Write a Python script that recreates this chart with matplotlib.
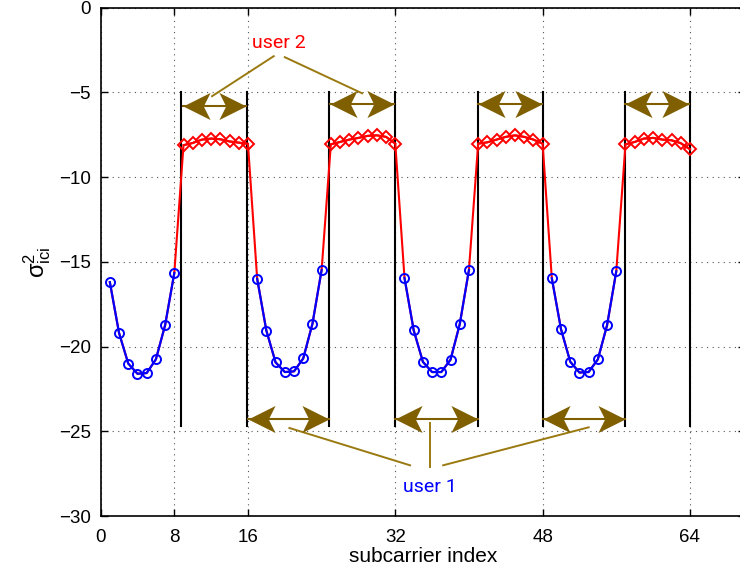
import matplotlib
matplotlib.use("Agg")
import matplotlib.pyplot as plt
from matplotlib.path import Path
import numpy as np

plt.rcParams['font.family'] = ['Liberation Sans', 'DejaVu Sans']
plt.rcParams['mathtext.fontset'] = 'custom'
plt.rcParams['mathtext.rm'] = 'Liberation Sans'
plt.rcParams['mathtext.it'] = 'Liberation Sans:italic'
plt.rcParams['mathtext.default'] = 'regular'

# ICI power per subcarrier, user 1 blocks (blue) and user 2 blocks (red)
user1_idx = [list(range(1, 9)), list(range(17, 25)), list(range(33, 41)), list(range(49, 57))]
user1_val = [
    [-16.2, -19.2, -21.0, -21.6, -21.56, -20.75, -18.74, -15.66],
    [-16.0, -19.06, -20.93, -21.5, -21.46, -20.7, -18.66, -15.48],
    [-15.95, -19.04, -20.9, -21.5, -21.5, -20.77, -18.68, -15.48],
    [-15.97, -18.98, -20.89, -21.53, -21.5, -20.75, -18.74, -15.56],
]
user2_idx = [list(range(9, 17)), list(range(25, 33)), list(range(41, 49)), list(range(57, 65))]
user2_val = [
    [-8.12, -7.99, -7.79, -7.73, -7.77, -7.9, -7.97, -8.04],
    [-8.07, -7.93, -7.79, -7.69, -7.57, -7.54, -7.63, -8.03],
    [-8.03, -7.95, -7.79, -7.63, -7.54, -7.63, -7.79, -8.03],
    [-8.07, -7.93, -7.73, -7.69, -7.79, -7.83, -8.0, -8.36],
]

# block boundaries and allocation arrows
boundaries = [8.7, 15.9, 24.8, 32, 41, 48, 57, 64]
boundary_y = (-24.7, -5.0)
user2_arrows = [(8.9, 15.8, -5.8), (24.9, 31.9, -5.7), (41.0, 47.9, -5.7), (57.0, 63.9, -5.7)]
user1_arrows = [(16.0, 24.8, -24.25), (32.0, 41.0, -24.25), (48.0, 56.9, -24.25)]

xticks = [0, 8, 16, 32, 48, 64]
yticks = [0, -5, -10, -15, -20, -25, -30]

fig = plt.figure(figsize=(7.40, 5.78), dpi=100)
ax = fig.add_axes([0.136, 0.107, 0.871, 0.880])

# full curve in red, user 1 segments drawn over in blue
all_idx = []
all_val = []
for i in range(4):
    all_idx += user1_idx[i] + user2_idx[i]
    all_val += user1_val[i] + user2_val[i]
ax.plot(all_idx, all_val, color='red', lw=1.5, zorder=3)
for xs, ys in zip(user2_idx, user2_val):
    ax.plot(xs, ys, color='red', lw=1.5, marker='D', ms=6, mfc='none',
            mec='red', mew=1.4, zorder=4)
for xs, ys in zip(user1_idx, user1_val):
    ax.plot(xs, ys, color='blue', lw=1.6, marker='o', ms=6.5, mfc='none',
            mec='blue', mew=1.4, zorder=5)

for b in boundaries:
    ax.plot([b, b], boundary_y, color='black', lw=1.5, zorder=2)

# swallow-tail arrowheads: tip at the marker origin
head_codes = [Path.MOVETO, Path.LINETO, Path.LINETO, Path.LINETO, Path.CLOSEPOLY]
head_right = Path([(0, 0), (-2, 1), (-1.5, 0), (-2, -1), (0, 0)], head_codes)
head_left = Path([(0, 0), (2, 1), (1.5, 0), (2, -1), (0, 0)], head_codes)

arrow_col = '#7f5f00'
for x0, x1, y in user2_arrows + user1_arrows:
    ax.plot([x0, x1], [y, y], color=arrow_col, lw=1.5, zorder=6)
    ax.plot([x0], [y], marker=head_left, ms=39, color=arrow_col, mew=0, zorder=7)
    ax.plot([x1], [y], marker=head_right, ms=39, color=arrow_col, mew=0, zorder=7)

# callout lines to labels
callouts = [
    ((18.8, -2.87), (12.1, -5.23)),
    ((20.0, -2.93), (28.4, -5.06)),
    ((20.5, -24.8), (33.6, -27.0)),
    ((35.75, -24.5), (35.75, -27.1)),
    ((37.2, -27.0), (53.0, -24.76)),
]
for (xa, ya), (xb, yb) in callouts:
    ax.plot([xa, xb], [ya, yb], color='#9a7a10', lw=1.4, zorder=6)

ax.text(19.4, -2.1, 'user 2', color='red', fontsize=14, ha='center',
        va='center', family=['Roboto', 'DejaVu Sans'])
ax.text(35.8, -28.3, 'user 1', color='blue', fontsize=14, ha='center',
        va='center', family=['Roboto', 'DejaVu Sans'])

ax.set_xlim(0, 70)
ax.set_ylim(-30, 0)
ax.set_xticks(xticks)
ax.set_yticks(yticks)
ax.set_xticklabels([str(t) for t in xticks])
ax.set_yticklabels(['\u2212' + str(-t) if t < 0 else str(t) for t in yticks])
ax.tick_params(direction='in', top=True, right=True, labelsize=13.5, length=5,
               width=1.0)
ax.tick_params(axis='x', pad=9)
ax.tick_params(axis='y', pad=7)
ax.grid(True, color='#555555', linestyle=(0, (1, 4)), lw=0.8)
for s in ax.spines.values():
    s.set_linewidth(1.2)

ax.set_xlabel('subcarrier index', fontsize=15, labelpad=1)
ax.set_ylabel(r'$\sigma^2_{ici}$', fontsize=17, labelpad=4)

fig.savefig('out.png', dpi=100)
